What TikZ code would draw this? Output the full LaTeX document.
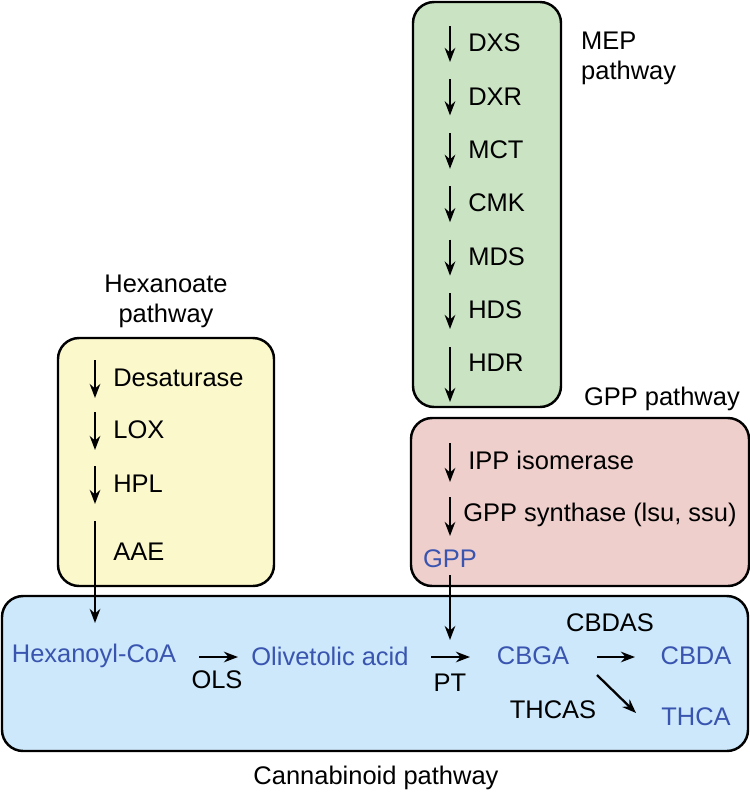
\documentclass[tikz,border=0pt]{standalone}
\usepackage{fontspec}
\setmainfont{Liberation Sans}
\usetikzlibrary{arrows.meta}
\definecolor{mepgreen}{HTML}{C9E3C3}
\definecolor{hexyellow}{HTML}{FBF8CC}
\definecolor{gpppink}{HTML}{EFCFCC}
\definecolor{cannblue}{HTML}{CCE8FA}
\definecolor{metblue}{HTML}{3A55B0}
\tikzset{
  panel/.style={draw,line width=1.4pt,rounded corners=12pt},
  enz/.style={anchor=west,inner sep=0pt},
  met/.style={text=metblue,inner sep=0pt},
  stepar/.style={-{Stealth[length=8pt,width=6pt]},line width=1.3pt}
}
\begin{document}
\begin{tikzpicture}[x=0.02cm,y=-0.02cm,font=\fontsize{14.5}{17}\selectfont]
  \useasboundingbox (0,0) rectangle (750,792);
  % boxes
  \draw[panel,fill=mepgreen] (413,2) rectangle (561,407);
  \draw[panel,fill=hexyellow] (58,338) rectangle (274,586);
  \draw[panel,fill=gpppink] (411,418) rectangle (749,586);
  \draw[panel,fill=cannblue] (2,596) rectangle (748,751);
  % pathway titles
  \node[anchor=west,align=left] (mep) at (575,58) {MEP\\pathway};
  \node[align=center] (hex) at (166,301) {Hexanoate\\pathway};
  \node[anchor=east] (gppt) at (746,399) {GPP pathway};
  \node (cann) at (376,778) {Cannabinoid pathway};
  % MEP steps
  \foreach \lab [count=\i] in {DXS,DXR,MCT,CMK,MDS,HDS} {
    \pgfmathsetmacro{\yy}{43+53.4*(\i-1)}
    \node[enz] (m\i) at (468,\yy) {\lab};
    \coordinate (ma\i) at (450,\yy-17);
    \coordinate (mb\i) at (450,\yy+19);
    \draw[stepar] (ma\i) -- (mb\i);
  }
  \node[enz] (hdr) at (468,363) {HDR};
  \coordinate (hdra) at (450,347);
  \coordinate (hdrb) at (450,402);
  \draw[stepar] (hdra) -- (hdrb);
  % hexanoate steps
  \foreach \lab/\yy [count=\i] in {Desaturase/378,LOX/430,HPL/484} {
    \node[enz] (h\i) at (113,\yy) {\lab};
    \coordinate (ha\i) at (95,\yy-18);
    \coordinate (hb\i) at (95,\yy+20);
    \draw[stepar] (ha\i) -- (hb\i);
  }
  \node[enz] (aae) at (113,552) {AAE};
  \coordinate (aaea) at (95,521);
  \coordinate (aaeb) at (95,623);
  % GPP steps
  \node[enz] (ipp) at (468,460) {IPP isomerase};
  \coordinate (ippa) at (450,443);
  \coordinate (ippb) at (450,482);
  \draw[stepar] (ippa) -- (ippb);
  \node[enz] (gpps) at (463,515) {GPP synthase (lsu, ssu)};
  \coordinate (gppsa) at (450,497);
  \coordinate (gppsb) at (450,536);
  \draw[stepar] (gppsa) -- (gppsb);
  \node[met] (gpp) at (450,559) {GPP};
  \coordinate (gppb) at (450,640);
  % cannabinoid pathway
  \node[met] (hexcoa) at (94,656) {Hexanoyl-CoA};
  \node[met] (oa) at (330,656) {Olivetolic acid};
  \node[met] (cbga) at (533,656) {CBGA};
  \node[met] (cbda) at (696,656) {CBDA};
  \node[met] (thca) at (696,717) {THCA};
  \draw[stepar] (aaea) -- (aaeb);
  \draw[stepar] ([yshift=-4pt]gpp.south) -- (gppb);
  \draw[stepar] (199,657) -- (238,657);
  \node (ols) at (217,680) {OLS};
  \draw[stepar] (431,657) -- (470,657);
  \node (pt) at (450,683) {PT};
  \draw[stepar] (597,657) -- (635,657);
  \node (cbdas) at (610,623) {CBDAS};
  \draw[stepar] (597,675) -- (636,713);
  \node (thcas) at (553,710) {THCAS};
\end{tikzpicture}
\end{document}
